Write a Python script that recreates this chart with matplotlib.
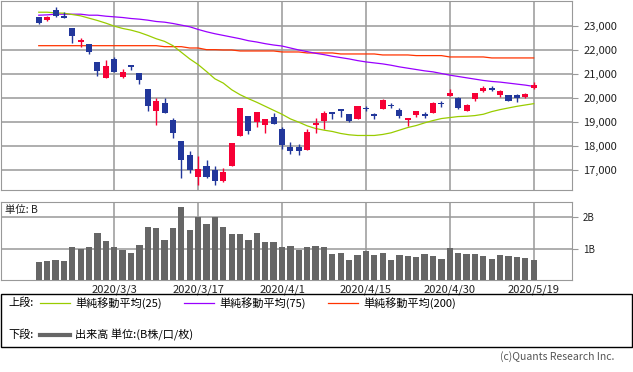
import numpy as np
import matplotlib
matplotlib.use("Agg")
import matplotlib.pyplot as plt
from matplotlib.lines import Line2D
from matplotlib.patches import Rectangle
import datetime as dt

plt.rcParams['font.family'] = ['Noto Sans CJK JP', 'DejaVu Sans']

# trading days shown (Tokyo calendar)
dates = ["2020-02-18", "2020-02-19", "2020-02-20", "2020-02-21", "2020-02-25",
         "2020-02-26", "2020-02-27", "2020-02-28", "2020-03-02", "2020-03-03",
         "2020-03-04", "2020-03-05", "2020-03-06", "2020-03-09", "2020-03-10",
         "2020-03-11", "2020-03-12", "2020-03-13", "2020-03-16", "2020-03-17",
         "2020-03-18", "2020-03-19", "2020-03-23", "2020-03-24", "2020-03-25",
         "2020-03-26", "2020-03-27", "2020-03-30", "2020-03-31", "2020-04-01",
         "2020-04-02", "2020-04-03", "2020-04-06", "2020-04-07", "2020-04-08",
         "2020-04-09", "2020-04-10", "2020-04-13", "2020-04-14", "2020-04-15",
         "2020-04-16", "2020-04-17", "2020-04-20", "2020-04-21", "2020-04-22",
         "2020-04-23", "2020-04-24", "2020-04-27", "2020-04-28", "2020-04-30",
         "2020-05-01", "2020-05-07", "2020-05-08", "2020-05-11", "2020-05-12",
         "2020-05-13", "2020-05-14", "2020-05-15", "2020-05-18", "2020-05-19"]
label_dates = ["2020-03-03", "2020-03-17", "2020-04-01", "2020-04-15", "2020-04-30", "2020-05-19"]

opens  = [23372, 23248, 23660, 23427, 22917, 22339, 22257, 21514, 20826, 21638,
          20867, 21390, 21019, 20358, 19464, 19780, 19078, 18212, 17634, 16739,
          17179, 17014, 16560, 17193, 18432, 19244, 19023, 18886, 19202, 18707,
          17964, 17964, 17854, 18886, 19051, 19409, 19532, 19326, 19133, 19601,
          19326, 19546, 19698, 19519, 19092, 19285, 19340, 19381, 19794, 20069,
          20000, 19464, 19945, 20289, 20413, 20110, 20138, 20138, 20055, 20427]
highs  = [23372, 23400, 23784, 23578, 22917, 22477, 22257, 21514, 21596, 21720,
          21225, 21390, 21060, 20358, 19987, 19987, 19161, 18212, 17799, 17592,
          17427, 17179, 17111, 18129, 19588, 19244, 19409, 19120, 19381, 18803,
          18170, 18088, 18734, 19161, 19450, 19409, 19532, 19326, 19684, 19656,
          19381, 19959, 19794, 19574, 19161, 19450, 19409, 19822, 19877, 20358,
          20028, 19739, 20193, 20510, 20482, 20330, 20138, 20179, 20193, 20661]
lows   = [23083, 23179, 23385, 23344, 22298, 22106, 21817, 20895, 20826, 21074,
          20812, 21184, 20578, 19464, 18886, 19381, 18349, 16698, 16890, 16395,
          16684, 16368, 16492, 17193, 18432, 18514, 18803, 18555, 18927, 17868,
          17689, 17634, 17854, 18555, 18707, 19133, 19216, 19010, 19133, 19450,
          19133, 19546, 19588, 19175, 18845, 19202, 19175, 19381, 19629, 20069,
          19533, 19464, 19877, 20234, 20289, 20042, 19877, 19835, 20014, 20372]
closes = [23124, 23385, 23427, 23344, 22560, 22422, 21899, 21115, 21349, 21074,
          21101, 21280, 20743, 19670, 19863, 19381, 18555, 17427, 17014, 17056,
          16739, 16574, 16946, 18129, 19588, 18638, 19409, 19120, 18927, 18060,
          17812, 17812, 18583, 18955, 19367, 19340, 19464, 19051, 19656, 19532,
          19257, 19904, 19656, 19257, 19161, 19450, 19257, 19794, 19739, 20207,
          19588, 19698, 20193, 20427, 20317, 20275, 19877, 20000, 20152, 20537]

ma25 = [23564, 23564, 23537, 23523, 23468, 23413, 23316, 23220, 23110, 22986,
        22890, 22821, 22725, 22601, 22463, 22353, 22174, 21899, 21624, 21390,
        21101, 20798, 20620, 20344, 20138, 19973, 19822, 19656, 19491, 19326,
        19133, 18996, 18845, 18734, 18666, 18611, 18528, 18473, 18445, 18445,
        18445, 18487, 18555, 18666, 18776, 18858, 18968, 19065, 19147, 19189,
        19230, 19243, 19271, 19326, 19436, 19519, 19588, 19656, 19711, 19766]
ma75 = [23440, 23454, 23482, 23482, 23482, 23482, 23440, 23440, 23399, 23372,
        23344, 23303, 23275, 23234, 23179, 23151, 23096, 23028, 22959, 22849,
        22752, 22670, 22601, 22532, 22463, 22380, 22326, 22257, 22202, 22160,
        22078, 21996, 21927, 21858, 21803, 21734, 21679, 21624, 21555, 21500,
        21459, 21418, 21362, 21294, 21239, 21184, 21129, 21087, 21019, 20950,
        20895, 20840, 20785, 20730, 20688, 20661, 20620, 20578, 20537, 20482]
ma200 = [22174, 22174, 22174, 22174, 22174, 22174, 22174, 22174, 22174, 22174,
         22174, 22174, 22174, 22174, 22174, 22133, 22133, 22133, 22078, 22078,
         22009, 22009, 21996, 21996, 21954, 21954, 21954, 21954, 21954, 21913,
         21913, 21913, 21872, 21872, 21872, 21872, 21830, 21830, 21830, 21830,
         21830, 21789, 21789, 21789, 21789, 21762, 21762, 21762, 21762, 21706,
         21706, 21706, 21706, 21706, 21665, 21665, 21665, 21665, 21665, 21665]

volume = [0.615, 0.646, 0.667, 0.635, 1.073, 1.01, 1.073, 1.51, 1.26, 1.073,
          0.98, 0.885, 1.135, 1.70, 1.667, 1.29, 1.667, 2.32, 1.60, 2.01,
          1.79, 2.01, 1.70, 1.48, 1.48, 1.29, 1.51, 1.23, 1.23, 1.073,
          1.104, 0.98, 1.073, 1.104, 1.073, 0.854, 0.885, 0.667, 0.823, 0.948,
          0.823, 0.885, 0.667, 0.823, 0.79, 0.76, 0.854, 0.79, 0.70, 1.04,
          0.885, 0.854, 0.854, 0.79, 0.70, 0.823, 0.79, 0.76, 0.73, 0.667]

W, H = 633, 372
def fx(px):
    return px / W
def fy(py):
    return 1 - py / H

GRID = '#999999'
RED = '#f70035'
BLUE = '#22379b'

x = np.arange(len(dates))
o = np.array(opens); c = np.array(closes)
hi = np.array(highs); lo = np.array(lows)
up = c >= o
cols = np.where(up, RED, BLUE)

tick_pos = [dates.index(d) for d in label_dates]
tick_lab = []
for d in label_dates:
    t = dt.date.fromisoformat(d)
    tick_lab.append(f"{t.year}/{t.month}/{t.day}")

fig = plt.figure(figsize=(6.33, 3.72), dpi=100)

# upper panel: candles + moving averages
ax = fig.add_axes([fx(1), fy(190), fx(572) - fx(1), fy(1) - fy(190)])
ax.set_xlim(-4.5, 63.57)
ax.set_ylim(16180, 24030)
ax.set_yticks(np.arange(17000, 23001, 1000))
ax.set_yticklabels([f"{v:,}" for v in range(17000, 23001, 1000)])
ax.set_xticks(tick_pos)
ax.set_xticklabels([])
ax.grid(True, color=GRID, lw=1.1)
ax.set_axisbelow(True)
ax.yaxis.tick_right()
ax.tick_params(axis='y', length=4, color=GRID, labelsize=8, labelcolor='#222222', pad=4)
ax.tick_params(axis='x', length=0)
for s in ax.spines.values():
    s.set_color(GRID)

ax.plot(x, ma200, color='#ff3300', lw=0.9, zorder=2)
ax.plot(x, ma75, color='#9900ff', lw=0.9, zorder=2)
ax.plot(x, ma25, color='#99cc00', lw=0.9, zorder=2)

ax.vlines(x, lo, hi, colors=cols, lw=1, zorder=3)
body = np.maximum(np.abs(c - o), 30)
ax.bar(x, body, bottom=np.minimum(o, c), width=0.72, color=cols, zorder=4)

# lower panel: volume
axv = fig.add_axes([fx(1), fy(280.3), fx(572) - fx(1), fy(201.7) - fy(280.3)])
axv.set_xlim(-4.5, 63.57)
axv.set_ylim(0.03, 2.49)
axv.bar(x, volume, width=0.75, color='#666666', zorder=3)
axv.set_yticks([1, 2])
axv.set_yticklabels(['1B', '2B'])
axv.yaxis.tick_right()
axv.set_xticks(tick_pos)
axv.set_xticklabels(tick_lab)
axv.grid(True, color=GRID, lw=1.1)
axv.set_axisbelow(True)
axv.tick_params(axis='y', length=4, color=GRID, labelsize=7, labelcolor='#222222', pad=4)
axv.tick_params(axis='x', length=0, labelsize=8, labelcolor='#222222', pad=3)
for s in axv.spines.values():
    s.set_color(GRID)
axv.text(0.007, 0.9, '単位: B', transform=axv.transAxes, fontsize=7.5,
         ha='left', va='center', color='#222222', zorder=5)

# legend box
fig.patches.append(Rectangle((fx(1), fy(347)), fx(632) - fx(1), fy(294) - fy(347),
                             transform=fig.transFigure, fill=False, ec='black', lw=1))
fs = 8
fig.text(fx(8), fy(303), '上段:', fontsize=fs, va='center', ha='left')
items = [(40, '#99cc00', '単純移動平均(25)'),
         (184, '#9900ff', '単純移動平均(75)'),
         (328, '#ff3300', '単純移動平均(200)')]
for x0, col, lab in items:
    fig.lines.append(Line2D([fx(x0), fx(x0 + 30)], [fy(303), fy(303)],
                            transform=fig.transFigure, color=col, lw=0.9))
    fig.text(fx(x0 + 35), fy(303), lab, fontsize=fs, va='center', ha='left')
fig.text(fx(8), fy(335), '下段:', fontsize=fs, va='center', ha='left')
fig.lines.append(Line2D([fx(40), fx(70)], [fy(335), fy(335)],
                        transform=fig.transFigure, color='#666666', lw=3))
fig.text(fx(75), fy(335), '出来高 単位:(B株/口/枚)', fontsize=fs, va='center', ha='left')

fig.text(fx(614), fy(357), '(c)Quants Research Inc.', fontsize=7.5,
         ha='right', va='center', color='#555555')

fig.savefig('out.png', dpi=100)
